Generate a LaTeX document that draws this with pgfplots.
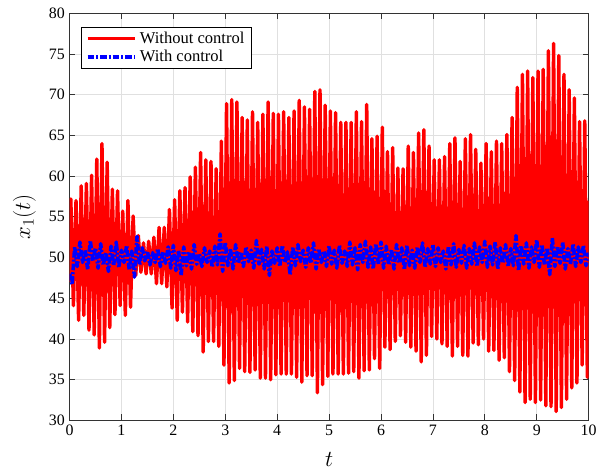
\documentclass[border=0pt]{standalone}
\usepackage{pgfplots}
\pgfplotsset{compat=1.18}
\usepackage{fontspec}
\setmainfont{Liberation Serif}

\begin{document}
\begin{tikzpicture}
\begin{axis}[
    width=392pt, height=307.5pt, scale only axis,
    xmin=0, xmax=10, ymin=30, ymax=80,
    xtick={0,1,...,10}, ytick={30,35,...,80},
    grid=major,
    major grid style={black!12, line width=0.5pt},
    axis line style={black!80, line width=0.6pt},
    tick style={black!80, line width=0.6pt},
    major tick length=4.5pt,
    /pgf/number format/assume math mode=true,
    ticklabel style={font=\fontsize{12}{14}\selectfont},
    xlabel={$t$}, ylabel={$x_1(t)$},
    label style={font=\fontsize{18}{21}\selectfont},
    xlabel style={yshift=-6pt},
    ylabel style={yshift=3pt},
    legend style={at={(0.023,0.967)}, anchor=north west, draw=black, line width=0.5pt,
        font=\fontsize{12.5}{15}\selectfont, inner xsep=3pt, inner ysep=1.5pt,
        cells={anchor=west}},
    legend image code/.code={\draw[#1] (0cm,0cm) -- (1.27cm,0cm);},
]
\addplot[red, line width=2.6pt, line join=round] coordinates {
(0,47) (0.025,57.2) (0.075,44.1) (0.125,57.0) (0.175,42.3) (0.225,58.8) (0.275,42.9) (0.325,59.1) (0.375,41.1) (0.425,60.1) (0.475,40.5) (0.525,62.1) (0.575,38.9) (0.625,64.0) (0.675,39.6) (0.725,61.7) (0.775,41.4) (0.825,58.4) (0.875,43.0) (0.925,58.2) (0.975,44.1)
(1.025,55.7) (1.075,42.9) (1.125,57.0) (1.175,43.9) (1.225,55.1) (1.275,47.8) (1.325,52.7) (1.375,48.2) (1.425,51.8) (1.475,48.0) (1.525,52.0) (1.575,48.0) (1.625,52.5) (1.675,46.8) (1.725,53.7) (1.775,46.8) (1.825,53.7) (1.875,46.4) (1.925,55.9) (1.975,43.8)
(2.025,57.1) (2.075,42.3) (2.125,58.2) (2.175,43.3) (2.225,58.6) (2.275,42.1) (2.325,59.9) (2.375,40.9) (2.425,61.1) (2.475,40.4) (2.525,62.9) (2.575,38.4) (2.625,62.0) (2.675,39.7) (2.725,61.8) (2.775,39.7) (2.825,60.9) (2.875,39.1) (2.925,64.3) (2.975,36.8)
(3.025,68.9) (3.075,34.6) (3.125,69.4) (3.175,34.9) (3.225,69.1) (3.275,36.4) (3.325,67.2) (3.375,36.0) (3.425,66.9) (3.475,35.9) (3.525,67.9) (3.575,36.2) (3.625,66.6) (3.675,35.2) (3.725,67.6) (3.775,35.2) (3.825,69.1) (3.875,35.0) (3.925,67.7) (3.975,35.6)
(4.025,67.6) (4.075,35.7) (4.125,67.9) (4.175,35.7) (4.225,67.2) (4.275,35.7) (4.325,68.0) (4.375,35.3) (4.425,69.3) (4.475,34.7) (4.525,68.5) (4.575,35.5) (4.625,68.2) (4.675,35.5) (4.725,70.4) (4.775,33.4) (4.825,70.6) (4.875,34.4) (4.925,68.7) (4.975,35.4)
(5.025,68.0) (5.075,35.7) (5.125,67.8) (5.175,35.7) (5.225,66.6) (5.275,35.7) (5.325,66.6) (5.375,35.8) (5.425,66.6) (5.475,36.0) (5.525,67.9) (5.575,35.2) (5.625,66.7) (5.675,36.1) (5.725,68.8) (5.775,36.2) (5.825,64.6) (5.875,37.6) (5.925,64.9) (5.975,36.4)
(6.025,66.0) (6.075,39.0) (6.125,63.0) (6.175,38.7) (6.225,63.5) (6.275,39.7) (6.325,61.0) (6.375,40.4) (6.425,60.9) (6.475,39.6) (6.525,63.7) (6.575,39.0) (6.625,62.9) (6.675,38.5) (6.725,65.3) (6.775,37.2) (6.825,65.7) (6.875,38.0) (6.925,63.7) (6.975,40.3)
(7.025,62.0) (7.075,40.0) (7.125,62.0) (7.175,39.4) (7.225,62.4) (7.275,39.1) (7.325,64.0) (7.375,37.9) (7.425,64.7) (7.475,39.1) (7.525,61.8) (7.575,38.0) (7.625,64.6) (7.675,37.9) (7.725,65.1) (7.775,39.5) (7.825,63.3) (7.875,39.3) (7.925,61.6) (7.975,40.0)
(8.025,64.0) (8.075,38.5) (8.125,63.0) (8.175,38.6) (8.225,64.3) (8.275,37.4) (8.325,64.0) (8.375,37.7) (8.425,65.1) (8.475,36.0) (8.525,67.2) (8.575,34.9) (8.625,70.9) (8.675,33.5) (8.725,72.5) (8.775,32.2) (8.825,72.9) (8.875,32.6) (8.925,72.1) (8.975,32.2)
(9.025,72.9) (9.075,32.5) (9.125,73.1) (9.175,31.8) (9.225,75.4) (9.275,31.7) (9.325,76.3) (9.375,31.1) (9.425,74.8) (9.475,31.6) (9.525,72.5) (9.575,32.6) (9.625,70.6) (9.675,34.0) (9.725,69.6) (9.775,34.6) (9.825,66.7) (9.875,36.8) (9.925,66.8) (9.975,35.3) (10,57.0)
};
\addlegendentry{Without control}

\addplot[blue, line width=2.7pt, line join=round, dash pattern=on 5pt off 1.5pt on 1.5pt off 1.5pt] table {
t x
0.00 48.0
0.05 46.7
0.10 51.3
0.15 48.9
0.20 51.9
0.25 49.4
0.30 50.9
0.35 48.5
0.40 52.1
0.45 49.6
0.50 51.2
0.55 48.7
0.60 51.7
0.65 49.1
0.70 50.6
0.75 48.3
0.80 51.4
0.85 49.0
0.90 51.9
0.95 48.8
1.00 50.9
1.05 49.4
1.10 51.5
1.15 48.5
1.20 50.8
1.25 47.6
1.30 52.6
1.35 49.1
1.40 51.2
1.45 49.6
1.50 50.8
1.55 49.1
1.60 50.6
1.65 49.4
1.70 51.1
1.75 48.9
1.80 50.7
1.85 49.3
1.90 51.3
1.95 48.7
2.00 51.5
2.05 48.4
2.10 50.9
2.15 47.8
2.20 51.3
2.25 49.0
2.30 50.7
2.35 48.6
2.40 51.6
2.45 49.2
2.50 50.5
2.55 48.9
2.60 51.2
2.65 49.4
2.70 50.8
2.75 48.8
2.80 51.4
2.85 49.1
2.90 52.9
2.95 48.3
3.00 51.9
3.05 49.0
3.10 51.1
3.15 48.6
3.20 51.6
3.25 49.3
3.30 50.7
3.35 48.9
3.40 51.3
3.45 49.5
3.50 50.9
3.55 48.7
3.60 52.1
3.65 49.2
3.70 51.0
3.75 48.6
3.80 51.4
3.85 47.8
3.90 50.8
3.95 49.3
4.00 51.2
4.05 48.9
4.10 51.5
4.15 49.4
4.20 50.7
4.25 47.9
4.30 51.3
4.35 49.0
4.40 51.6
4.45 49.5
4.50 50.9
4.55 48.8
4.60 51.2
4.65 49.3
4.70 51.8
4.75 48.6
4.80 51.1
4.85 49.4
4.90 50.8
4.95 48.9
5.00 51.4
5.05 49.2
5.10 50.9
5.15 48.7
5.20 51.5
5.25 49.3
5.30 50.8
5.35 48.9
5.40 51.9
5.45 49.1
5.50 51.2
5.55 48.5
5.60 51.6
5.65 49.4
5.70 52.0
5.75 48.8
5.80 51.3
5.85 48.6
5.90 51.7
5.95 49.2
6.00 51.9
6.05 48.7
6.10 51.4
6.15 49.1
6.20 51.0
6.25 48.6
6.30 51.6
6.35 49.3
6.40 51.2
6.45 48.5
6.50 51.5
6.55 49.0
6.60 50.9
6.65 48.7
6.70 51.3
6.75 49.4
6.80 51.8
6.85 48.8
6.90 51.1
6.95 49.2
7.00 51.6
7.05 48.9
7.10 51.2
7.15 49.4
7.20 50.8
7.25 48.6
7.30 51.4
7.35 49.1
7.40 51.7
7.45 48.8
7.50 51.0
7.55 49.3
7.60 51.5
7.65 48.7
7.70 51.1
7.75 49.2
7.80 51.8
7.85 48.9
7.90 51.3
7.95 49.4
8.00 52.0
8.05 48.8
8.10 51.4
8.15 49.1
8.20 51.9
8.25 48.6
8.30 51.2
8.35 49.3
8.40 51.6
8.45 48.9
8.50 51.1
8.55 49.0
8.60 52.7
8.65 48.4
8.70 51.5
8.75 49.2
8.80 51.8
8.85 48.7
8.90 51.3
8.95 49.4
9.00 52.2
9.05 48.8
9.10 51.6
9.15 49.1
9.20 51.2
9.25 47.9
9.30 52.4
9.35 48.9
9.40 51.4
9.45 49.3
9.50 51.9
9.55 48.6
9.60 51.1
9.65 49.2
9.70 51.7
9.75 48.9
9.80 51.3
9.85 49.4
9.90 51.5
9.95 49.0
10.00 50.6
};
\addlegendentry{With control}
\end{axis}
\path ([xshift=-52.5pt,yshift=-40.7pt]current axis.south west)
    rectangle ([xshift=6pt,yshift=10pt]current axis.north east);
\end{tikzpicture}
\end{document}
